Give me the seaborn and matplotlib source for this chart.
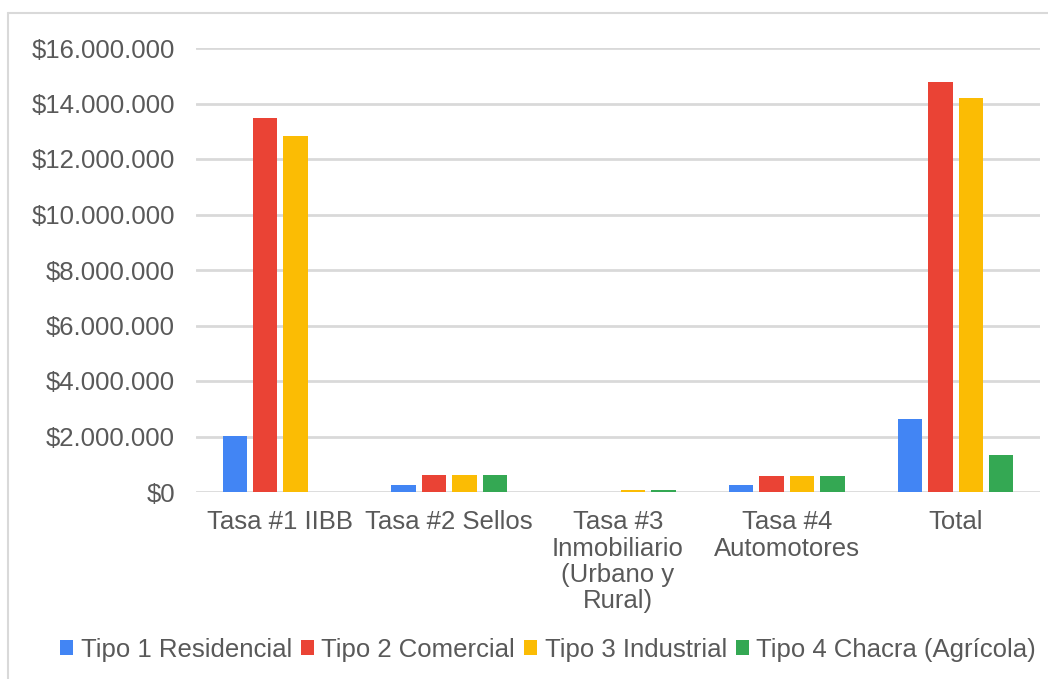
import matplotlib
matplotlib.use("Agg")
import matplotlib.pyplot as plt
from matplotlib.patches import Patch
from matplotlib.lines import Line2D
from matplotlib.ticker import FuncFormatter
import seaborn as sns
import pandas as pd

categories = ["Tasa #1 IIBB", "Tasa #2 Sellos", "Tasa #3\nInmobiliario\n(Urbano y\nRural)",
              "Tasa #4\nAutomotores", "Total"]
series_names = ["Tipo 1 Residencial", "Tipo 2 Comercial", "Tipo 3 Industrial", "Tipo 4 Chacra (Agrícola)"]
tipo1 = [2020000, 250000, 0, 250000, 2630000]
tipo2 = [13480000, 620000, 0, 580000, 14770000]
tipo3 = [12830000, 620000, 70000, 580000, 14200000]
tipo4 = [0, 620000, 60000, 580000, 1330000]
colors = ["#4285F4", "#EA4335", "#FBBC04", "#34A853"]
yticks = [0, 2000000, 4000000, 6000000, 8000000, 10000000, 12000000, 14000000, 16000000]

rows = []
for name, vals in zip(series_names, [tipo1, tipo2, tipo3, tipo4]):
    for c, v in zip(categories, vals):
        rows.append({"cat": c, "serie": name, "valor": v})
df = pd.DataFrame(rows)

sns.set_theme(style="white")
plt.rcParams["font.family"] = ["Liberation Sans", "DejaVu Sans"]
text_color = "#595959"
fs = 18.5

fig = plt.figure(figsize=(10.48, 6.79), dpi=100)
ax = fig.add_axes([196 / 1048, 1 - 492 / 679, (1040 - 196) / 1048, (492 - 48) / 679])

sns.barplot(data=df, x="cat", y="valor", hue="serie", order=categories,
            hue_order=series_names, palette=colors, width=0.72, gap=0.2,
            saturation=1, legend=False, ax=ax, linewidth=0)

ax.set_ylim(0, 16000000)
ax.set_xlim(-0.5, len(categories) - 0.5)
ax.set_yticks(yticks)
ax.yaxis.set_major_formatter(FuncFormatter(lambda v, p: "$" + f"{int(v):,}".replace(",", ".")))
ax.grid(axis="y", color="#d9d9d9", linewidth=2)
ax.set_axisbelow(True)
for s in ax.spines.values():
    s.set_visible(False)
ax.set_xlabel("")
ax.set_ylabel("")
ax.tick_params(axis="y", length=0, pad=15, labelsize=fs, labelcolor=text_color)
ax.tick_params(axis="x", length=0, pad=13, labelsize=fs, labelcolor=text_color)
for lbl in ax.get_xticklabels():
    lbl.set_linespacing(1.13)

handles = [Patch(facecolor=c, edgecolor="none") for c in colors]
fig.legend(handles, series_names, loc="center", bbox_to_anchor=(0.523, 0.043), ncol=4,
           frameon=False, fontsize=fs, labelcolor=text_color, handlelength=0.5,
           handleheight=0.5, handletextpad=0.3, columnspacing=0.35, borderpad=0)

fig.add_artist(Line2D([8 / 1048, 8 / 1048], [0, 1 - 13 / 679], transform=fig.transFigure,
                      color="#d9d9d9", linewidth=1.5))
fig.add_artist(Line2D([8 / 1048, 1], [1 - 13 / 679, 1 - 13 / 679], transform=fig.transFigure,
                      color="#d9d9d9", linewidth=1.5))

fig.savefig("out.png", dpi=100)
